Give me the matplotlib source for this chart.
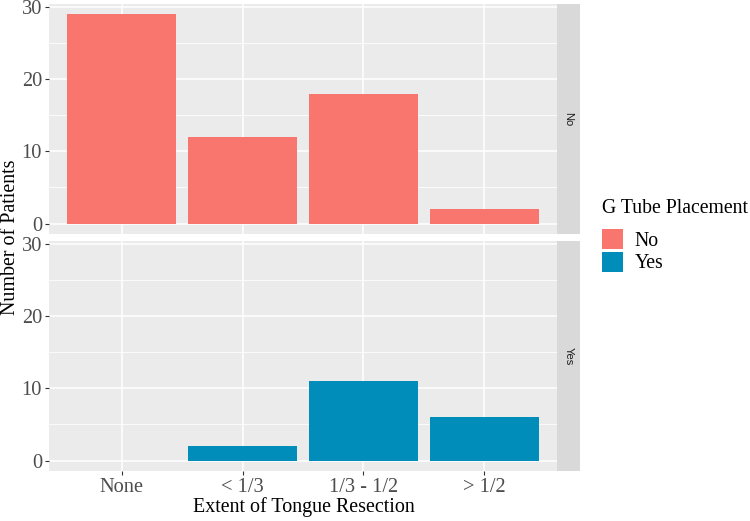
import matplotlib
matplotlib.use("Agg")
import matplotlib.pyplot as plt
from matplotlib.patches import Patch
import numpy as np

categories = ["None", "< 1/3", "1/3 - 1/2", "> 1/2"]
no_values = [29, 12, 18, 2]
yes_values = [0, 2, 11, 6]
facet_labels = ["No", "Yes"]
y_ticks = [0, 10, 20, 30]
colors = {"No": "#F8766D", "Yes": "#008DB9"}

plt.rcParams["font.family"] = ["Liberation Serif", "DejaVu Serif"]

W, H = 750, 521
fig = plt.figure(figsize=(W / 100, H / 100), dpi=100)

def fx(px):
    return px / W

def fy(py):
    return 1 - py / H

panels = [(4, 234), (241, 471)]
left, right = 49, 557
strip_w = 23
ymax = max(max(no_values), max(yes_values))
ylim = (-0.05 * ymax, ymax * 1.05)
x = np.arange(1, len(categories) + 1)

for i, ((top, bottom), lab, vals) in enumerate(zip(panels, facet_labels, [no_values, yes_values])):
    ax = fig.add_axes([fx(left), fy(bottom), fx(right - left), (bottom - top) / H])
    ax.set_facecolor("#EBEBEB")
    for s in ax.spines.values():
        s.set_visible(False)
    ax.set_xlim(0.4, len(categories) + 0.6)
    ax.set_ylim(*ylim)
    ax.set_yticks(y_ticks)
    ax.set_yticks([5, 15, 25], minor=True)
    ax.set_xticks(x)
    ax.grid(True, which="major", color="white", linewidth=1.1)
    ax.grid(True, which="minor", axis="y", color="white", linewidth=0.55)
    ax.set_axisbelow(True)
    ax.bar(x, vals, width=0.9, color=colors[lab], zorder=3)
    ax.tick_params(axis="both", which="major", length=3, color="#333333", width=0.8,
                   labelsize=14.7, labelcolor="#4D4D4D", pad=2)
    ax.tick_params(axis="both", which="minor", length=0)
    if i == 0:
        ax.set_xticklabels([])
        ax.tick_params(axis="x", length=0)
    else:
        ax.set_xticklabels(categories)
    sax = fig.add_axes([fx(right), fy(bottom), fx(strip_w), (bottom - top) / H])
    sax.set_facecolor("#D9D9D9")
    sax.set_xticks([])
    sax.set_yticks([])
    for s in sax.spines.values():
        s.set_visible(False)
    sax.text(0.5, 0.5, lab, rotation=-90, ha="center", va="center",
             fontsize=8, color="#1A1A1A", transform=sax.transAxes, family="Liberation Sans")

fig.text(fx(11), fy(237), "Number of Patients", rotation=90, ha="center", va="center",
         fontsize=14.4, color="black")
fig.text(fx(304), fy(507), "Extent of Tongue Resection", ha="center", va="center",
         fontsize=14.4, color="black")

handles = [Patch(facecolor=colors[k], edgecolor="none") for k in facet_labels]
leg = fig.legend(handles, facet_labels, title="G Tube Placement", loc="upper left",
                 bbox_to_anchor=(fx(602), fy(199)), frameon=False,
                 prop={"size": 14.2},
                 title_fontproperties={"size": 14.2},
                 handlelength=1.05, handleheight=1.17, handletextpad=0.6,
                 labelspacing=0.05, borderaxespad=0, borderpad=0)
leg._legend_box.align = "left"
leg._legend_box.sep = 8

fig.savefig("out.png", dpi=100)
